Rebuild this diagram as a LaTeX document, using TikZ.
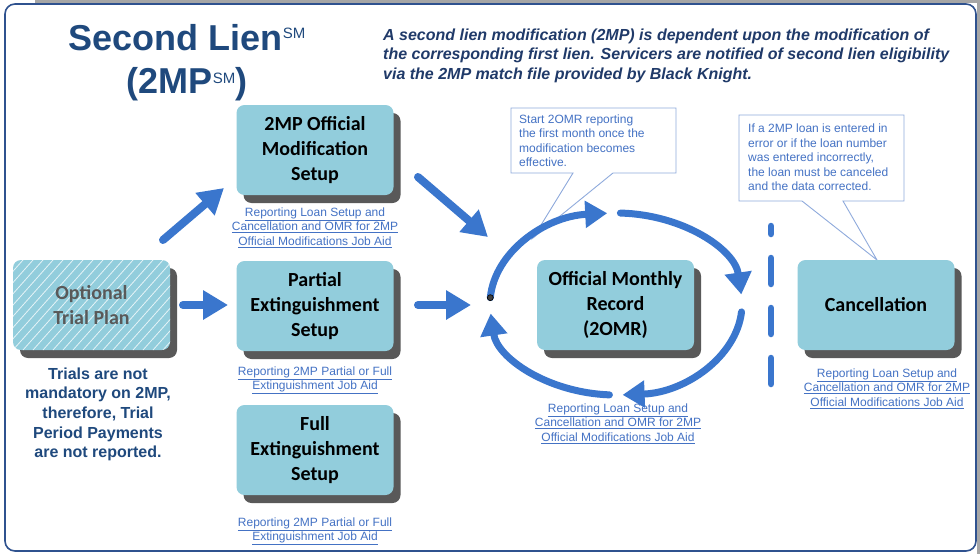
\documentclass[tikz,border=0pt]{standalone}
\usepackage{fontspec}
\setmainfont{Liberation Sans}
\newfontfamily\calibri{Carlito}
\usetikzlibrary{arrows.meta,shadows,calc}
\definecolor{arrowblue}{RGB}{58,118,205}
\definecolor{boxfill}{RGB}{146,205,220}
\definecolor{shadowgray}{RGB}{89,89,89}
\definecolor{titleblue}{RGB}{31,73,125}
\definecolor{navy}{RGB}{32,58,105}
\definecolor{linkblue}{RGB}{68,114,196}
\definecolor{calloutc}{RGB}{143,170,220}
\definecolor{framec}{RGB}{47,82,143}
\definecolor{edgegray}{RGB}{166,166,166}
\definecolor{optgray}{RGB}{89,89,89}
\begin{document}
\begin{tikzpicture}[x=1pt,y=-1pt,
  mbox/.style={fill=boxfill, rounded corners=8pt, minimum width=157pt, minimum height=90pt,
    align=center, inner sep=0pt, font=\calibri\bfseries\fontsize{20}{25}\selectfont,
    drop shadow={shadow xshift=7pt, shadow yshift=-8pt, fill=shadowgray, opacity=1}},
  linktext/.style={anchor=north, align=center, inner sep=0pt, text=linkblue,
    font=\fontsize{12}{14.5}\selectfont},
  ctext/.style={anchor=north west, align=left, inner sep=0pt, text=linkblue,
    font=\fontsize{12}{14.5}\selectfont},
  callout/.style={fill=white, draw=calloutc, line width=0.9pt, line join=miter},
  fatarrow/.style={draw=arrowblue, line width=8pt, line cap=round,
    -{Triangle[length=25pt,width=28pt]}},
  arcarrow/.style={draw=arrowblue, line width=7pt, line cap=round,
    -{Triangle[length=22pt,width=26pt]}}
]
\useasboundingbox (0,0) rectangle (980,554);
% page edge and frame
\fill[edgegray] (35,0) rectangle (980,3.3);
\fill[edgegray] (977,0) rectangle (980,554);
\draw[framec, line width=1.6pt, rounded corners=10pt, fill=white] (5,4) rectangle (976,551);

% title
\node[anchor=base, inner sep=0pt, text=titleblue, font=\bfseries\fontsize{36}{36}\selectfont] (t1) at (187,50)
  {Second Lien\raisebox{12pt}{\fontsize{15}{15}\selectfont\mdseries SM}};
\node[anchor=base, inner sep=0pt, text=titleblue, font=\bfseries\fontsize{36}{36}\selectfont] (t2) at (187,93)
  {(2MP\raisebox{10pt}{\fontsize{15}{15}\selectfont\mdseries SM})};

% intro paragraph
\node[anchor=north west, inner sep=0pt, align=left, text=navy,
  font=\bfseries\itshape\fontsize{16}{19.7}\selectfont] (intro) at (383,28.5)
  {A second lien modification (2MP) is dependent upon the modification of\\
   the corresponding first lien. Servicers are notified of second lien eligibility\\
   via the 2MP match file provided by Black Knight.};

% callouts
\draw[callout] (511,108) -- (676,108) -- (676,173) -- (613,173) -- (533,238) -- (573,173) -- (511,173) -- cycle;
\node[ctext] (c1t) at (519,114.3) {Start 2OMR reporting\\the first month once the\\modification becomes\\effective.};
\draw[callout] (739,115) -- (904,115) -- (904,201) -- (843,201) -- (877,260) -- (802,201) -- (739,201) -- cycle;
\node[ctext] (c2t) at (748,124) {If a 2MP loan is entered in\\error or if the loan number\\was entered incorrectly,\\the loan must be canceled\\and the data corrected.};

% boxes
\node[mbox, text=optgray, path picture={
    \foreach \i in {-12,...,20}
      \draw[white, opacity=0.75, line width=0.8pt]
        ($(path picture bounding box.south west)+(\i*10pt,0pt)$) -- ++(80pt,90pt);
  }] (opt) at (91.5,305) {Optional\\Trial Plan};
\node[mbox] (b1) at (315,150) {2MP Official\\Modification\\Setup};
\node[mbox] (b2) at (315,306) {Partial\\Extinguishment\\Setup};
\node[mbox] (b3) at (315,450) {Full\\Extinguishment\\Setup};
\node[mbox] (omr) at (615.5,305) {Official Monthly\\Record\\(2OMR)};
\node[mbox] (can) at (876,305) {Cancellation};

% left note
\node[anchor=north, align=center, inner sep=0pt, text=titleblue,
  font=\bfseries\fontsize{16}{19.6}\selectfont] (trial) at (98,367.5)
  {Trials are not\\mandatory on 2MP,\\therefore, Trial\\Period Payments\\are not reported.};

% links
\node[linktext] (l1) at (315,207.3) {\underline{Reporting Loan Setup and}\\\underline{Cancellation and OMR for 2MP}\\\underline{Official Modifications Job Aid}};
\node[linktext] (l2) at (315,366.3) {\underline{Reporting 2MP Partial or Full}\\\underline{Extinguishment Job Aid}};
\node[linktext] (l3) at (315,517.3) {\underline{Reporting 2MP Partial or Full}\\\underline{Extinguishment Job Aid}};
\node[linktext] (l4) at (618,403.3) {\underline{Reporting Loan Setup and}\\\underline{Cancellation and OMR for 2MP}\\\underline{Official Modifications Job Aid}};
\node[linktext] (l5) at (887,368.3) {\underline{Reporting Loan Setup and}\\\underline{Cancellation and OMR for 2MP}\\\underline{Official Modifications Job Aid}};

% straight arrows
\coordinate (a1s) at (183,305); \coordinate (a1e) at (228,305);
\coordinate (a2s) at (163,240); \coordinate (a2e) at (224,188);
\coordinate (a3s) at (418,177); \coordinate (a3e) at (488,237);
\coordinate (a4s) at (418,305); \coordinate (a4e) at (471,305);
\draw[fatarrow] (a1s) -- (a1e);
\draw[fatarrow] (a2s) -- (a2e);
\draw[fatarrow] (a3s) -- (a3e);
\draw[fatarrow] (a4s) -- (a4e);

% cycle arcs
\coordinate (cyc) at (616,304);
\draw[arcarrow] ($(cyc)+(184:126 and 91)$) arc[start angle=184, end angle=266, x radius=126, y radius=91];
\draw[arcarrow] ($(cyc)+(272:126 and 91)$) arc[start angle=272, end angle=354, x radius=126, y radius=91];
\draw[arcarrow] ($(cyc)+(5:126 and 91)$) arc[start angle=5, end angle=87, x radius=126, y radius=91];
\draw[arcarrow] ($(cyc)+(93:126 and 91)$) arc[start angle=93, end angle=174, x radius=126, y radius=91];
\filldraw[fill=black!75, draw=black, line width=0.6pt] ($(cyc)+(184:126 and 91)$) circle[radius=3pt];

% dashed separator
\coordinate (d1) at (771,384); \coordinate (d2) at (771,226);
\draw[arrowblue, line width=6.5pt, line cap=round, dash pattern=on 26pt off 24pt] (d1) -- (d2);
\end{tikzpicture}
\end{document}
